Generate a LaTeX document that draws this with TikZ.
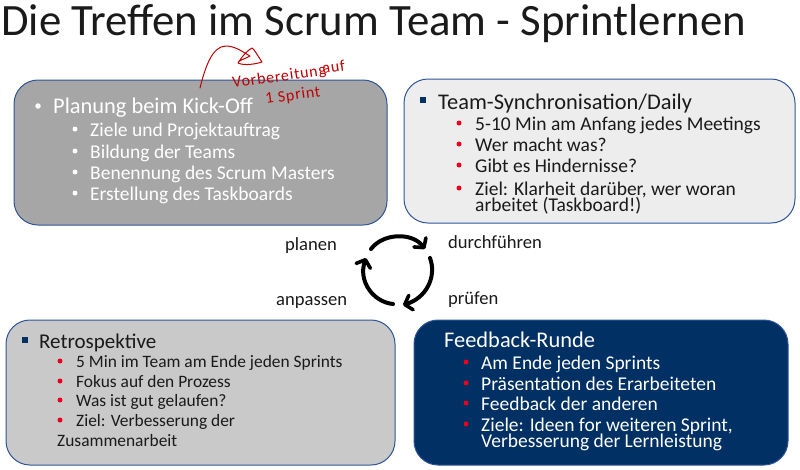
\documentclass[tikz,border=0pt]{standalone}
\usepackage{fontspec}
\setmainfont{Carlito}
\usetikzlibrary{arrows.meta}
\definecolor{edgeblue}{HTML}{2F5597}
\definecolor{navy}{HTML}{003064}
\definecolor{gA}{HTML}{A6A6A6}
\definecolor{gB}{HTML}{EDEDED}
\definecolor{gC}{HTML}{C9C9C9}
\definecolor{noteRed}{HTML}{C00000}
\definecolor{dotRed}{HTML}{E8001C}
\definecolor{inkDark}{HTML}{1A1A1A}
\tikzset{
  panel/.style={draw=edgeblue,line width=1pt,rounded corners=24pt},
  head/.style={anchor=base west,inner sep=0pt,font=\fontsize{22.4}{26}\selectfont},
  item/.style={anchor=base west,inner sep=0pt,font=\fontsize{19.5}{22}\selectfont},
  itemS/.style={anchor=base west,inner sep=0pt,font=\fontsize{17.4}{20}\selectfont,text=inkDark},
  cyc/.style={anchor=base west,inner sep=0pt,font=\fontsize{18.6}{22}\selectfont,text=inkDark},
  reddot/.style={circle,fill=dotRed,inner sep=0pt,minimum size=5pt},
  whitedot/.style={circle,fill=white,inner sep=0pt,minimum size=5.5pt},
  sq/.style={rectangle,fill=navy,inner sep=0pt,minimum size=6.5pt},
  cyclearrow/.style={line width=4pt,line cap=round,-{Straight Barb[length=6.5pt,width=15pt,line width=3.6pt,round]}},
  note/.style={anchor=base west,inner sep=0pt,text=noteRed,font=\fontsize{16}{18}\selectfont\addfontfeature{LetterSpace=5}},
}
\begin{document}
\begin{tikzpicture}[x=1pt,y=-1pt]
\useasboundingbox (0,0) rectangle (800,469);
\node[anchor=base west,inner sep=0pt,font=\fontsize{44.8}{50}\selectfont,text=inkDark] (title) at (1,35) {Die Treffen im Scrum Team - Sprintlernen};

% panels
\path[panel,fill=gA] (14,80) rectangle (387,225);
\path[panel,fill=gB] (404,79) rectangle (795,223);
\path[panel,fill=gC] (6,320) rectangle (395,465);
\path[panel,fill=navy] (414,320) rectangle (788,465);

% panel 1
\node[whitedot] (a0) at (38,106) {};
\node[head,text=white] (a) at (53,113) {Planung beim Kick-Off};
\foreach \n/\y/\t in {1/136/Ziele und Projektauftrag,2/158/Bildung der Teams,3/179/Benennung des Scrum Masters,4/200/Erstellung des Taskboards}{
  \node[whitedot,minimum size=5pt] (ad\n) at (75,\y-7) {};
  \node[item,text=white] (a\n) at (90,\y) {\t};
}

% panel 2
\node[sq] (b0) at (423,100) {};
\node[head,text=inkDark] (b) at (438,109) {Team-Synchronisation/Daily};
\foreach \n/\y/\t in {1/130/5-10 Min am Anfang jedes Meetings,2/151/Wer macht was?,3/172/Gibt es Hindernisse?,4/195/Ziel: Klarheit darüber{,} wer woran}{
  \node[reddot] (bd\n) at (459,\y-7) {};
  \node[item,text=inkDark] (b\n) at (475,\y) {\t};
}
\node[item,text=inkDark] (b5) at (475,211) {arbeitet (Taskboard!)};

% panel 3
\node[sq] (c0) at (25,340) {};
\node[head,font=\fontsize{21}{24}\selectfont,text=inkDark] (c) at (39,348) {Retrospektive};
\foreach \n/\y/\t in {1/367/5 Min im Team am Ende jeden Sprints,2/387/Fokus auf den Prozess,3/406/Was ist gut gelaufen?,4/426/Ziel: Verbesserung der}{
  \node[reddot] (cd\n) at (60,\y-6) {};
  \node[itemS] (c\n) at (76,\y) {\t};
}
\node[itemS] (c5) at (57,446) {Zusammenarbeit};

% panel 4
\node[head,text=white] (d) at (444,347) {Feedback-Runde};
\foreach \n/\y/\t in {1/369/Am Ende jeden Sprints,2/390/Präsentation des Erarbeiteten,3/410/Feedback der anderen,4/431/Ziele: Ideen for weiteren Sprint{,}}{
  \node[reddot] (dd\n) at (466,\y-7) {};
  \node[item,text=white] (d\n) at (481,\y) {\t};
}
\node[item,text=white] (d5) at (481,447) {Verbesserung der Lernleistung};

% cycle labels
\node[cyc] (plan) at (285,250) {planen};
\node[cyc] (durch) at (448,248) {durchführen};
\node[cyc] (pruef) at (448,304) {prüfen};
\node[cyc] (anp) at (276,305) {anpassen};

% cycle arrows
\coordinate (p1) at (371,249);
\coordinate (p2) at (425,249);
\coordinate (p3) at (430,258);
\coordinate (p4) at (403,305);
\coordinate (p5) at (393,304);
\coordinate (p6) at (366,258);
\draw[cyclearrow] (p1) .. controls (383,233) and (412,232) .. (p2);
\draw[cyclearrow] (p3) .. controls (437,277) and (426,298) .. (p4);
\draw[cyclearrow] (p5) .. controls (373,302) and (358,281) .. (p6);

% red note
\coordinate (s0) at (200,88);
\coordinate (s1) at (262,62);
\draw[noteRed,line width=1pt,line join=round,line cap=round]
  (s0) .. controls (205,68) and (212,46) .. (226,46)
  .. controls (235,46) and (243,52) .. (250,56)
  .. controls (245,59) and (237,61) .. (238,63)
  .. controls (244,66) and (256,64) .. (s1)
  .. controls (258,56) and (254,49) .. (252,48)
  .. controls (248,50) and (243,55) .. (238,63);
\node[note,rotate=8] (v) at (233,88) {Vorbereitung};
\node[note,rotate=8] (u) at (323,74) {auf};
\node[note,rotate=8] (w) at (266,104) {1 Sprint};
\end{tikzpicture}
\end{document}
